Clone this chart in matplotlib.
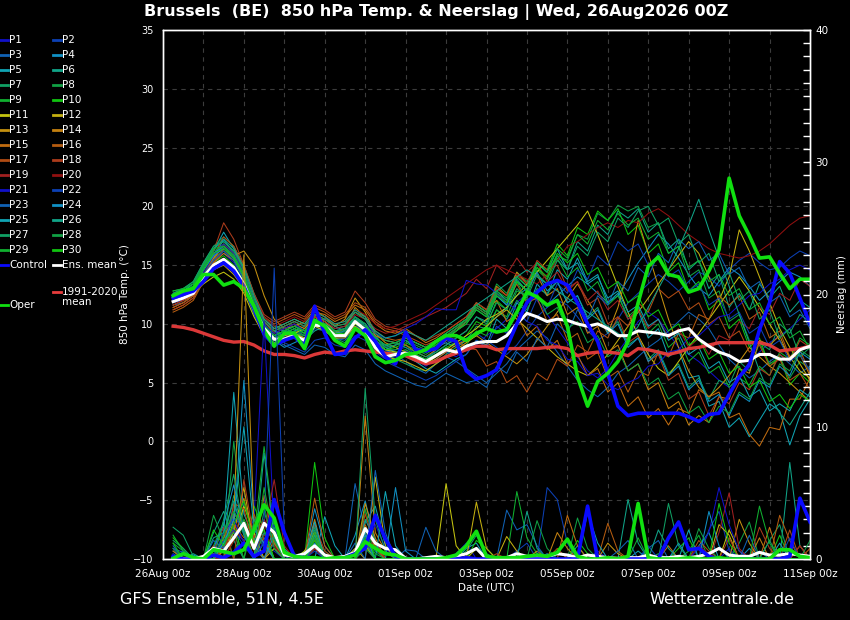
import numpy as np
import matplotlib.pyplot as plt

# lead time in hours (6-hourly GFS ensemble output, +6h .. +384h)
hours = np.arange(6, 385, 6)

tick_labels = ['26Aug 00z', '28Aug 00z', '30Aug 00z', '01Sep 00z', '03Sep 00z',
               '05Sep 00z', '07Sep 00z', '09Sep 00z', '11Sep 00z']

# ---- 850 hPa temperature (degC) ----
ens_mean_t = [11.9, 12.2, 12.6, 14.0, 15.0, 15.5, 14.8, 13.4, 11.3, 9.6,
              8.7, 8.7, 9.0, 8.6, 9.9, 9.8, 9.0, 9.0, 10.2, 9.5,
              8.0, 7.2, 7.4, 7.5, 7.2, 6.8, 7.3, 7.8, 7.6, 8.1,
              8.4, 8.5, 8.5, 9.0, 10.0, 10.9, 10.6, 10.2, 10.4, 10.3,
              10.0, 9.8, 10.0, 9.6, 9.0, 9.0, 9.4, 9.3, 9.2, 9.0,
              9.4, 9.6, 8.7, 8.1, 7.6, 7.3, 6.8, 6.9, 7.4, 7.4,
              7.0, 7.0, 7.8, 8.1]
clim_t = [9.8, 9.7, 9.5, 9.2, 8.9, 8.6, 8.45, 8.5, 8.2, 7.7,
          7.4, 7.4, 7.3, 7.1, 7.4, 7.6, 7.5, 7.7, 7.8, 7.7,
          7.6, 7.5, 7.4, 7.3, 6.9, 6.6, 6.8, 7.2, 7.5, 7.8,
          8.1, 8.1, 7.8, 7.9, 7.9, 7.9, 7.9, 8.0, 8.05, 7.9,
          7.3, 7.5, 7.6, 7.6, 7.5, 7.3, 7.9, 7.8, 7.6, 7.4,
          7.6, 7.9, 8.0, 8.2, 8.4, 8.4, 8.4, 8.4, 8.4, 8.2,
          7.7, 7.8, 7.9, 8.1]
control_t = [12.2, 12.5, 12.8, 13.6, 14.7, 15.2, 14.5, 13.2, 11.3, 9.1,
             8.2, 8.6, 8.9, 8.1, 11.5, 9.2, 7.4, 7.5, 8.8, 9.5,
             8.5, 7.2, 6.6, 9.3, 7.8, 7.7, 7.9, 8.8, 8.5, 6.0,
             5.3, 5.6, 6.1, 8.0, 10.0, 11.8, 12.7, 13.4, 13.7, 13.3,
             11.8, 10.0, 8.5, 5.8, 3.0, 2.2, 2.4, 2.4, 2.4, 2.4,
             2.4, 2.1, 1.7, 2.3, 2.4, 4.0, 5.5, 6.5, 9.5, 11.8,
             15.3, 14.3, 12.2, 10.0]
oper_t = [12.4, 12.8, 13.0, 14.2, 14.2, 13.3, 13.6, 13.0, 11.5, 9.4,
          8.1, 9.2, 9.2, 7.9, 10.3, 9.8, 8.6, 8.1, 9.6, 9.0,
          7.2, 6.7, 6.9, 7.4, 7.5, 7.8, 8.5, 9.0, 9.0, 8.6,
          9.2, 9.6, 9.3, 9.5, 11.0, 12.7, 12.3, 11.6, 12.0, 9.8,
          5.5, 3.0, 5.1, 5.8, 6.8, 8.5, 11.8, 14.9, 15.7, 14.2,
          14.0, 12.7, 13.0, 14.5, 16.3, 22.4, 19.2, 17.5, 15.6, 15.7,
          14.3, 13.0, 13.8, 13.8]

t01 = [11.8, 12.0, 12.6, 14.2, 15.4, 16.0, 15.2, 13.8, 11.0, 9.2, 8.4, 8.9, 9.4, 8.8, 10.2, 9.6, 8.6, 8.8, 10.0, 9.2,
       7.6, 7.0, 7.2, 7.8, 7.0, 6.4, 7.0, 7.6, 7.2, 7.8, 8.2, 9.0, 9.6, 10.4, 11.8, 12.6, 12.0, 10.8, 9.6, 8.4,
       7.2, 6.0, 5.4, 6.2, 7.6, 8.8, 10.2, 11.0, 10.4, 9.2, 8.0, 7.4, 6.8, 6.0, 5.2, 4.6, 5.4, 6.8, 7.6, 8.4,
       9.0, 9.6, 10.4, 11.2]
t02 = [12.4, 12.8, 13.2, 14.6, 15.8, 16.4, 15.6, 14.0, 11.8, 10.0, 9.0, 9.2, 9.6, 9.0, 10.6, 10.2, 9.4, 9.2, 10.6, 9.8,
       8.4, 7.6, 7.8, 8.0, 7.4, 7.0, 7.8, 8.6, 8.2, 8.8, 9.2, 8.6, 8.0, 7.4, 8.2, 9.4, 10.6, 11.4, 12.0, 11.6,
       10.6, 9.4, 8.6, 9.2, 10.4, 11.8, 12.6, 13.4, 14.2, 13.6, 12.8, 13.6, 14.4, 14.0, 13.2, 14.6, 15.4, 16.0, 15.2, 14.6,
       14.8, 15.6, 16.2, 15.8]
t03 = [11.6, 11.8, 12.4, 13.8, 15.0, 15.4, 14.6, 13.0, 10.8, 9.0, 8.2, 8.6, 8.8, 8.4, 9.6, 9.4, 8.8, 8.6, 9.8, 9.4,
       8.2, 7.8, 7.4, 6.8, 6.2, 5.8, 6.6, 7.2, 6.8, 6.2, 5.6, 5.0, 5.8, 6.6, 7.8, 8.6, 9.4, 8.8, 7.6, 6.4,
       5.2, 4.4, 3.8, 4.6, 5.8, 6.4, 7.2, 8.0, 8.6, 9.4, 10.2, 11.0, 10.4, 9.6, 8.2, 7.0, 6.2, 5.4, 6.0, 6.8,
       7.4, 6.6, 5.8, 6.4]
t04 = [12.0, 12.4, 13.0, 14.4, 15.6, 17.2, 16.0, 14.2, 11.4, 9.4, 8.6, 8.0, 8.4, 8.8, 10.0, 10.4, 9.8, 9.4, 10.4, 10.0,
       8.6, 7.8, 8.2, 8.6, 8.0, 7.6, 8.0, 8.4, 8.0, 8.6, 9.0, 9.8, 10.6, 11.4, 12.4, 13.0, 12.2, 11.6, 12.4, 13.2,
       14.0, 13.4, 12.6, 11.8, 12.4, 13.8, 15.2, 16.4, 17.6, 16.8, 15.6, 14.2, 13.0, 12.4, 13.6, 14.8, 14.2, 13.2, 12.0, 12.8,
       13.6, 14.4, 14.0, 13.2]
t05 = [12.2, 12.6, 13.2, 14.8, 16.2, 17.8, 16.4, 14.6, 12.0, 10.2, 9.4, 9.0, 9.4, 9.8, 10.8, 10.2, 9.6, 9.8, 11.0, 10.4,
       9.0, 8.0, 7.6, 7.2, 6.8, 6.2, 5.8, 6.4, 7.0, 7.4, 8.6, 8.2, 10.4, 9.6, 11.8, 11.0, 13.4, 12.4, 14.6, 13.8,
       15.6, 13.6, 14.2, 11.8, 12.6, 10.4, 11.2, 8.8, 9.6, 7.2, 7.8, 5.4, 5.6, 3.0, 3.4, 1.2, 2.0, 0.4, 1.8, 3.2,
       2.6, -0.3, 2.2, 3.6]
t06 = [12.6, 13.0, 13.4, 15.0, 16.4, 17.0, 16.2, 14.8, 12.2, 10.4, 9.6, 9.4, 9.0, 8.6, 9.4, 9.8, 9.2, 9.0, 10.4, 10.0,
       8.8, 8.2, 8.0, 7.6, 7.2, 7.0, 7.6, 8.2, 8.8, 9.4, 10.6, 10.2, 12.4, 11.6, 13.8, 12.8, 15.2, 14.4, 15.8, 14.6,
       17.0, 16.2, 18.4, 17.6, 19.6, 19.0, 19.8, 17.8, 18.6, 16.4, 17.2, 14.6, 15.4, 13.0, 14.2, 11.4, 12.6, 11.2, 13.4, 12.2,
       13.2, 11.0, 12.0, 11.4]
t07 = [12.8, 13.0, 13.6, 15.2, 16.6, 17.4, 16.6, 15.0, 12.6, 10.6, 9.8, 9.6, 9.2, 9.0, 9.8, 9.4, 8.8, 8.4, 9.6, 9.2,
       8.0, 7.4, 7.0, 6.6, 6.2, 6.0, 6.6, 7.4, 8.0, 8.6, 9.8, 9.6, 11.2, 10.4, 12.0, 11.2, 13.0, 12.6, 13.6, 11.8,
       12.4, 10.6, 11.4, 9.4, 10.2, 8.2, 8.8, 7.0, 7.8, 5.8, 6.6, 4.6, 5.4, 3.6, 5.2, 4.8, 6.8, 6.0, 8.4, 7.8,
       10.0, 9.2, 10.8, 10.2]
t08 = [12.4, 12.8, 13.4, 15.0, 16.0, 16.6, 15.8, 14.4, 11.8, 9.8, 9.0, 9.4, 9.8, 9.2, 10.4, 10.0, 9.4, 9.0, 10.2, 9.6,
       8.4, 7.8, 7.8, 8.2, 7.8, 7.4, 8.0, 8.8, 9.6, 10.4, 11.8, 11.2, 13.4, 12.6, 14.4, 13.6, 14.8, 13.8, 15.8, 15.4,
       17.6, 17.2, 19.4, 18.8, 20.1, 19.6, 20.0, 18.2, 18.6, 16.0, 16.6, 14.0, 14.6, 12.2, 12.8, 10.2, 10.8, 8.6, 8.4, 6.6,
       7.2, 5.4, 6.8, 6.2]
t09 = [12.2, 12.4, 13.0, 14.4, 15.6, 16.2, 15.4, 13.8, 11.4, 9.6, 8.8, 9.0, 9.4, 9.0, 10.2, 9.8, 9.2, 9.2, 10.2, 9.4,
       7.8, 7.2, 7.4, 7.6, 7.2, 6.8, 7.4, 8.0, 7.6, 8.2, 9.4, 9.0, 11.2, 10.6, 12.8, 12.4, 14.6, 13.8, 15.6, 14.0,
       14.8, 12.8, 13.6, 11.6, 12.4, 10.6, 11.4, 9.2, 10.0, 8.0, 8.8, 6.8, 7.6, 5.8, 6.4, 4.6, 5.4, 4.8, 6.4, 5.6,
       7.6, 7.0, 8.8, 8.2]
t10 = [12.0, 12.4, 12.8, 14.0, 15.2, 15.8, 15.0, 13.6, 11.2, 9.4, 8.6, 8.8, 9.2, 8.8, 10.0, 9.6, 9.0, 9.0, 10.0, 9.4,
       8.0, 7.4, 7.6, 7.8, 7.4, 7.0, 7.4, 8.0, 8.4, 9.0, 10.2, 9.8, 12.0, 11.2, 13.6, 12.8, 15.2, 14.6, 16.8, 15.8,
       18.2, 17.6, 19.6, 18.8, 19.8, 17.6, 18.4, 16.0, 16.8, 14.4, 15.2, 12.8, 13.6, 11.2, 12.0, 9.6, 10.4, 8.0, 8.8, 6.4,
       7.2, 4.8, 5.8, 5.0]
t11 = [11.8, 12.2, 12.6, 13.4, 14.0, 14.4, 13.8, 12.6, 10.6, 9.0, 8.4, 8.8, 9.2, 9.6, 10.6, 10.2, 9.4, 9.0, 10.0, 9.6,
       8.4, 7.8, 7.6, 7.4, 7.0, 6.6, 7.2, 7.8, 8.4, 9.0, 9.6, 10.4, 10.8, 11.4, 12.4, 13.4, 14.4, 15.4, 16.4, 17.4,
       18.4, 19.6, 17.6, 15.4, 13.2, 11.0, 9.0, 7.4, 6.2, 5.6, 6.8, 8.0, 9.2, 10.4, 11.6, 12.8, 14.0, 12.8, 11.4, 10.0,
       8.6, 7.2, 6.0, 5.4]
t12 = [12.0, 12.2, 12.8, 13.8, 14.6, 15.0, 14.2, 13.0, 11.0, 9.4, 8.6, 9.0, 9.2, 8.8, 9.8, 9.4, 8.8, 8.8, 9.8, 9.2,
       7.8, 7.2, 7.0, 6.8, 6.4, 6.0, 6.6, 7.2, 7.8, 8.4, 9.0, 9.8, 10.6, 11.2, 10.4, 9.6, 8.8, 8.0, 7.2, 6.6,
       6.0, 5.6, 6.4, 7.4, 8.6, 9.8, 11.0, 12.2, 13.4, 14.6, 15.8, 17.0, 16.0, 14.0, 12.0, 14.0, 18.0, 16.2, 14.0, 11.8,
       9.6, 8.0, 6.6, 5.2]
t13 = [11.6, 12.0, 12.4, 14.0, 15.6, 16.6, 15.8, 16.2, 15.0, 12.4, 10.4, 9.6, 9.8, 10.2, 11.2, 10.6, 9.8, 10.4, 12.2, 11.0,
       9.2, 8.4, 8.0, 7.6, 7.0, 6.6, 7.0, 7.6, 8.2, 8.6, 9.0, 8.4, 7.8, 7.2, 6.6, 7.4, 8.6, 9.8, 11.0, 12.2,
       13.4, 12.0, 10.6, 9.2, 11.4, 14.6, 18.8, 16.0, 13.2, 10.4, 8.0, 6.0, 4.6, 3.8, 4.6, 5.6, 6.8, 8.0, 7.2, 6.4,
       5.8, 5.0, 4.2, 3.4]
t14 = [11.4, 11.8, 12.4, 13.8, 15.2, 16.0, 15.4, 14.0, 12.0, 10.2, 9.2, 9.6, 10.0, 9.6, 10.6, 10.0, 9.2, 9.6, 11.4, 10.6,
       9.0, 8.6, 8.4, 8.2, 7.6, 7.2, 7.8, 8.6, 9.4, 10.2, 11.6, 11.0, 13.2, 12.4, 14.4, 13.4, 14.2, 12.4, 13.0, 10.8,
       11.4, 9.2, 9.8, 7.6, 8.2, 6.0, 6.6, 4.4, 5.0, 2.8, 3.4, 1.4, 2.2, 1.6, 3.8, 3.6, 6.2, 5.8, 8.6, 8.2,
       9.0, 7.0, 7.4, 5.6]
t15 = [11.2, 11.6, 12.2, 13.6, 15.4, 16.8, 16.0, 14.4, 12.2, 10.4, 9.6, 10.0, 10.4, 10.0, 11.0, 10.8, 10.2, 10.6, 11.6, 11.2,
       10.0, 9.4, 9.2, 9.6, 9.0, 8.4, 8.8, 9.4, 10.0, 10.6, 11.8, 11.2, 12.0, 10.2, 10.8, 9.0, 9.8, 7.8, 8.6, 6.6,
       7.4, 5.6, 6.2, 4.2, 5.0, 3.0, 3.8, 2.0, 2.8, 1.4, 2.8, 2.4, 4.4, 3.8, 4.2, 2.0, 2.4, 0.6, -0.4, 1.2,
       1.0, 3.6, 3.6, 5.4]
t16 = [11.0, 11.4, 12.0, 13.6, 15.2, 16.4, 15.6, 14.2, 12.0, 10.2, 9.4, 9.8, 10.2, 9.8, 10.8, 10.4, 9.8, 10.0, 11.0, 10.6,
       9.4, 8.8, 8.6, 8.8, 8.4, 8.0, 8.4, 9.0, 9.6, 10.2, 11.4, 10.8, 12.6, 11.8, 13.4, 11.8, 12.2, 10.2, 10.8, 8.6,
       9.2, 7.0, 7.6, 5.4, 6.0, 4.2, 6.0, 5.6, 7.6, 7.2, 9.2, 8.8, 10.8, 10.4, 12.4, 11.6, 12.4, 10.4, 11.0, 8.8,
       9.4, 7.2, 7.8, 5.8]
t17 = [11.4, 11.8, 12.4, 14.0, 15.8, 17.4, 16.6, 14.8, 12.4, 10.6, 10.0, 10.4, 10.8, 10.4, 11.4, 11.0, 10.4, 10.8, 11.8, 11.4,
       10.2, 9.6, 9.4, 9.0, 8.6, 8.2, 8.6, 9.0, 8.6, 8.0, 7.8, 6.4, 6.8, 5.0, 5.6, 4.2, 5.8, 5.2, 7.0, 6.4,
       8.2, 7.6, 9.4, 8.8, 10.6, 9.8, 11.8, 11.0, 13.0, 12.2, 12.8, 11.2, 11.8, 10.0, 10.6, 8.8, 9.4, 7.6, 8.2, 6.4,
       7.0, 5.2, 5.8, 4.4]
t18 = [11.2, 11.6, 12.2, 14.2, 16.2, 18.6, 17.2, 15.0, 12.6, 10.8, 10.2, 10.6, 11.0, 10.6, 11.6, 11.2, 10.6, 11.0, 12.8, 11.8,
       10.4, 9.8, 9.6, 9.4, 9.0, 8.6, 9.0, 9.4, 10.0, 10.6, 11.8, 11.2, 13.0, 12.4, 14.2, 13.4, 15.4, 14.6, 15.0, 13.0,
       13.6, 11.6, 12.2, 10.0, 10.6, 8.4, 9.0, 6.8, 7.4, 5.2, 5.8, 3.6, 4.2, 2.2, 3.8, 3.2, 5.0, 4.4, 6.2, 5.6,
       7.4, 6.8, 8.6, 8.0]
t19 = [11.6, 12.0, 12.6, 14.0, 15.4, 16.2, 15.6, 14.2, 12.0, 10.2, 9.4, 9.8, 10.2, 9.8, 10.6, 10.2, 9.6, 9.8, 10.8, 10.4,
       9.6, 9.2, 9.4, 9.8, 10.2, 10.6, 11.0, 11.4, 12.0, 12.6, 13.8, 13.0, 15.0, 14.2, 15.6, 14.4, 15.2, 13.6, 14.4, 12.8,
       13.6, 12.0, 12.8, 11.2, 12.0, 10.4, 11.2, 9.6, 10.4, 8.8, 9.6, 8.0, 8.8, 7.4, 9.0, 8.6, 10.2, 9.6, 11.4, 10.8,
       12.6, 12.0, 13.8, 13.2]
t20 = [11.8, 12.2, 12.8, 14.4, 16.0, 16.8, 16.0, 14.6, 12.4, 10.6, 9.8, 10.2, 10.6, 10.2, 11.0, 10.6, 10.0, 10.2, 11.2, 10.8,
       10.0, 9.6, 9.8, 10.2, 10.6, 11.0, 11.6, 12.2, 12.8, 13.4, 14.0, 14.6, 15.0, 14.6, 14.2, 13.8, 13.4, 14.2, 15.4, 16.6,
       17.0, 17.6, 18.2, 18.6, 18.2, 18.8, 18.6, 19.4, 19.8, 19.2, 18.4, 17.6, 17.0, 16.4, 16.0, 15.8, 15.6, 15.8, 16.2, 16.8,
       17.6, 18.4, 19.0, 19.2]
t21 = [12.0, 12.4, 13.0, 14.4, 15.8, 16.6, 15.8, 14.2, 11.8, 9.8, 9.2, 9.6, 10.0, 9.4, 10.4, 10.0, 9.4, 9.6, 10.6, 10.0,
       9.2, 8.8, 9.0, 9.6, 10.0, 10.6, 11.3, 11.2, 11.2, 13.7, 13.4, 13.3, 12.6, 11.8, 11.2, 10.2, 9.8, 8.6, 8.2, 7.0,
       6.8, 5.6, 5.8, 4.8, 4.4, 5.0, 5.4, 6.4, 6.6, 7.6, 7.8, 8.8, 9.0, 9.8, 10.6, 10.8, 11.6, 12.4, 12.6, 13.4,
       13.8, 14.6, 15.0, 14.6]
t22 = [12.2, 12.6, 13.2, 14.6, 16.0, 16.8, 16.0, 14.4, 12.0, 10.0, 9.0, 8.4, 8.0, 7.6, 8.6, 8.8, 8.2, 8.0, 9.0, 8.6,
       7.4, 6.8, 6.4, 6.0, 5.6, 5.2, 5.6, 6.2, 6.8, 7.4, 8.6, 8.0, 9.8, 9.2, 11.0, 10.2, 12.2, 11.4, 13.4, 12.6,
       14.6, 13.8, 15.8, 15.0, 17.0, 16.2, 16.8, 15.0, 15.8, 14.0, 14.6, 12.8, 13.4, 11.6, 12.2, 10.4, 11.0, 9.2, 9.8, 8.0,
       8.6, 6.8, 7.4, 6.0]
t23 = [11.8, 12.2, 12.8, 14.2, 15.4, 16.2, 15.4, 13.8, 11.4, 9.4, 8.6, 8.2, 7.8, 7.4, 8.2, 8.0, 7.4, 7.2, 8.2, 7.8,
       6.6, 6.0, 5.6, 5.2, 4.8, 4.6, 5.2, 5.8, 5.4, 5.0, 5.2, 4.6, 6.4, 5.8, 7.6, 6.8, 8.8, 8.0, 10.0, 9.2,
       11.2, 10.4, 12.4, 11.6, 13.6, 12.8, 14.8, 14.0, 16.0, 15.2, 17.2, 16.4, 17.0, 15.4, 16.0, 14.2, 14.8, 13.0, 13.6, 11.8,
       12.4, 10.6, 11.2, 9.6]
t24 = [12.2, 12.6, 13.2, 14.6, 15.8, 16.4, 15.6, 14.0, 11.6, 9.6, 8.8, 9.2, 9.6, 9.2, 10.2, 9.8, 9.2, 9.4, 10.4, 9.8,
       8.6, 8.0, 8.2, 8.6, 8.0, 7.6, 8.2, 8.8, 9.4, 10.0, 11.2, 10.6, 12.4, 11.6, 13.6, 12.8, 14.4, 12.8, 13.6, 11.8,
       12.4, 10.4, 11.2, 9.2, 10.0, 8.0, 8.8, 6.8, 7.6, 5.6, 6.4, 4.4, 5.2, 3.4, 4.0, 2.2, 4.0, 3.4, 5.2, 4.6,
       6.4, 5.6, 7.6, 7.0]
t25 = [12.0, 12.4, 13.0, 14.6, 16.0, 16.6, 15.8, 14.2, 11.8, 9.8, 9.0, 9.4, 9.8, 9.4, 10.4, 10.0, 9.4, 9.6, 10.6, 10.0,
       8.8, 8.2, 8.4, 8.8, 8.4, 8.0, 8.6, 9.2, 9.8, 10.4, 11.6, 11.0, 12.8, 12.0, 14.0, 13.2, 15.2, 14.4, 16.4, 14.6,
       15.2, 13.4, 14.0, 12.2, 12.8, 11.0, 11.6, 9.8, 10.4, 8.6, 9.2, 7.4, 8.0, 6.2, 6.8, 5.0, 5.6, 3.8, 4.4, 2.6,
       3.2, 2.6, 4.4, 3.8]
t26 = [12.4, 12.8, 13.4, 15.0, 16.4, 17.2, 16.4, 14.8, 12.4, 10.4, 9.6, 10.0, 10.4, 10.0, 11.0, 10.6, 10.0, 10.2, 11.2, 10.6,
       9.4, 8.8, 9.0, 9.4, 9.0, 8.6, 9.2, 9.8, 10.4, 11.0, 11.6, 12.2, 12.8, 13.4, 14.0, 14.6, 14.0, 13.4, 12.8, 12.2,
       11.6, 11.0, 10.4, 9.8, 9.2, 8.6, 9.8, 11.4, 13.0, 14.6, 16.4, 18.4, 20.6, 18.0, 15.6, 13.2, 10.8, 8.4, 6.0, 4.0,
       2.4, 1.4, 2.8, 4.2]
t27 = [12.6, 13.0, 13.6, 15.2, 16.6, 17.0, 16.2, 14.6, 12.2, 10.2, 9.4, 9.8, 10.2, 9.8, 10.8, 10.4, 9.8, 10.0, 11.0, 10.4,
       9.2, 8.6, 8.4, 8.0, 7.6, 7.2, 7.6, 8.2, 8.8, 9.4, 10.6, 10.0, 11.8, 11.2, 13.0, 12.2, 14.2, 13.4, 15.4, 14.6,
       16.6, 15.8, 17.8, 17.0, 19.0, 18.2, 19.6, 20.0, 18.4, 19.0, 16.8, 17.6, 15.2, 16.0, 13.6, 14.4, 12.0, 12.8, 10.4, 11.2,
       8.8, 9.6, 7.2, 8.0]
t28 = [12.2, 12.6, 13.2, 14.8, 16.2, 16.6, 15.8, 14.2, 11.8, 9.8, 9.0, 9.4, 9.8, 9.4, 10.4, 10.0, 9.4, 9.4, 10.4, 9.8,
       8.6, 8.0, 8.2, 8.6, 8.2, 7.8, 8.4, 9.0, 9.6, 10.2, 11.4, 10.8, 12.6, 12.0, 13.6, 12.0, 12.6, 10.8, 11.4, 9.6,
       10.2, 8.4, 9.0, 7.2, 7.8, 6.0, 6.6, 4.8, 5.4, 3.6, 4.2, 2.4, 3.0, 1.6, 3.0, 2.4, 4.2, 3.6, 5.4, 4.8,
       6.6, 6.0, 7.8, 7.2]
t29 = [12.8, 13.0, 13.4, 15.0, 16.4, 16.6, 15.8, 14.2, 11.8, 9.8, 9.0, 9.4, 9.8, 9.4, 10.4, 10.0, 9.4, 9.6, 10.6, 10.0,
       8.8, 8.2, 8.4, 8.8, 8.4, 8.0, 8.6, 9.2, 9.8, 10.4, 11.6, 11.0, 12.8, 12.2, 14.0, 13.2, 15.2, 14.4, 16.4, 15.6,
       17.6, 16.8, 18.8, 18.0, 19.4, 18.4, 19.0, 17.2, 17.8, 16.0, 16.6, 14.8, 15.4, 13.6, 14.2, 12.4, 13.0, 11.2, 11.8, 10.0,
       10.6, 8.8, 9.4, 7.8]
t30 = [12.4, 12.8, 13.2, 14.6, 16.0, 16.4, 15.6, 14.0, 11.6, 9.6, 8.8, 9.2, 9.6, 9.2, 10.2, 9.8, 9.2, 9.2, 10.2, 9.6,
       8.4, 7.8, 8.0, 8.4, 8.0, 7.6, 8.2, 8.8, 9.4, 10.0, 11.2, 10.6, 12.4, 11.8, 13.6, 12.8, 14.8, 14.0, 16.0, 15.2,
       16.0, 14.2, 14.8, 13.0, 13.6, 11.8, 12.4, 10.6, 11.2, 9.4, 10.0, 8.2, 8.8, 7.0, 7.6, 5.8, 6.4, 4.6, 5.2, 3.4,
       4.0, 2.8, 4.0, 3.4]

# ---- 6-hourly precipitation (mm) ----
ens_mean_rr = [0.1, 0.05, 0, 0.2, 0.8, 0.6, 1.6, 2.7, 0.8, 2.7,
               2.0, 0.3, 0.2, 0.4, 1.0, 0.3, 0.1, 0.2, 0.5, 2.3,
               1.2, 0.8, 0.7, 0.05, 0, 0.1, 0.2, 0.1, 0.2, 0.4,
               0.8, 0, 0.1, 0.1, 0.4, 0.2, 0.1, 0.2, 0.4, 0.3,
               0.1, 0.3, 0.2, 0.1, 0.05, 0.1, 0.1, 0.3, 0.1, 0.1,
               0.2, 0.1, 0.2, 0.4, 0.8, 0.3, 0.2, 0.2, 0.5, 0.3,
               0.3, 0.4, 0.3, 0.2]
control_rr = [0.2, 0, 0, 0, 0.3, 0.1, 0.5, 1.2, 0.2, 0.6,
              4.5, 2.0, 0.2, 0.1, 0, 0, 0, 0.1, 0.4, 0.8,
              3.3, 1.5, 0.2, 0, 0, 0, 0, 0, 0, 0.1,
              0, 0, 0, 0, 0, 0, 0, 0, 0, 0,
              0, 4.0, 0, 0, 0, 0, 0, 0, 0, 1.6,
              2.8, 0.7, 0.8, 0.2, 0, 0, 0, 0, 0, 0,
              0, 0.2, 4.6, 2.8]
oper_rr = [0.05, 0.4, 0.1, 0, 0.7, 0.55, 0.4, 0.7, 2.2, 4.1,
           3.1, 0.5, 0.2, 0.1, 0.1, 0, 0.1, 0.1, 0.3, 1.3,
           0.8, 0.4, 0.3, 0, 0, 0, 0, 0.1, 0.3, 1.0,
           2.1, 0.2, 0.1, 0.1, 0.1, 0.2, 0.3, 0.2, 0.5, 1.5,
           0.2, 0, 0, 0.1, 0, 0.2, 4.2, 0.1, 0, 0,
           0, 0.1, 0, 0, 0.1, 0, 0, 0, 0, 0,
           0.7, 0.7, 0.2, 0.1]

# members: {time step index: mm}, every other step is dry
r01 = {4: 0.6, 5: 1.2, 6: 2.0, 7: 1.4, 8: 3.0, 9: 18.0, 10: 2.0, 11: 0.4, 14: 0.8, 19: 1.6, 20: 0.6, 28: 0.4, 29: 1.2, 42: 0.6, 55: 0.8}
r02 = {0: 0.4, 5: 0.8, 6: 4.2, 7: 1.8, 8: 2.4, 9: 1.0, 10: 0.6, 18: 0.8, 19: 2.2, 20: 1.4, 34: 0.6, 35: 1.2, 53: 2.2, 54: 3.6, 55: 0.6}
r03 = {0: 0.8, 1: 0.5, 5: 1.6, 6: 3.2, 7: 2.2, 10: 1.2, 12: 0.4, 14: 2.6, 18: 5.7, 19: 2.0, 23: 0.7, 24: 0.6, 33: 3.7, 34: 2.2, 35: 2.6, 36: 1.0, 47: 0.8, 48: 1.4, 58: 0.6}
r04 = {2: 0.3, 4: 0.6, 6: 2.4, 7: 13.5, 8: 3.0, 9: 1.6, 14: 3.8, 15: 1.0, 18: 1.8, 19: 4.4, 20: 1.2, 37: 0.4, 57: 0.8}
r05 = {0: 0.6, 5: 2.0, 6: 12.6, 7: 3.4, 8: 1.6, 10: 2.4, 11: 0.8, 15: 3.2, 16: 1.0, 19: 2.8, 20: 4.0, 21: 1.0, 29: 0.8, 30: 1.2, 46: 0.6, 52: 1.0, 53: 2.0}
r06 = {1: 0.4, 4: 2.0, 5: 3.6, 6: 1.4, 9: 2.6, 10: 1.2, 14: 1.4, 19: 3.0, 20: 1.4, 40: 1.0, 45: 4.5, 46: 1.2, 61: 7.3, 62: 1.0}
r07 = {0: 2.4, 1: 1.8, 2: 0.2, 5: 1.4, 6: 4.8, 7: 2.0, 9: 3.6, 10: 1.0, 14: 2.2, 19: 1.2, 29: 0.6, 30: 1.8, 31: 0.4, 48: 0.4, 59: 1.4, 60: 2.6}
r08 = {0: 1.2, 1: 0.6, 4: 0.8, 6: 8.9, 7: 2.4, 8: 1.8, 9: 1.0, 13: 0.6, 14: 1.0, 19: 2.4, 20: 0.6, 40: 3.1, 41: 0.8, 56: 1.2, 57: 2.8}
r09 = {4: 1.0, 5: 2.8, 7: 3.0, 8: 1.6, 9: 8.5, 10: 2.2, 14: 1.8, 15: 0.6, 19: 3.8, 20: 1.0, 34: 5.1, 35: 1.6, 36: 0.4, 51: 0.6, 52: 1.8}
r10 = {0: 1.6, 1: 0.8, 5: 1.2, 6: 2.6, 8: 4.0, 9: 2.2, 14: 7.3, 15: 1.6, 19: 1.8, 30: 1.4, 31: 0.8, 50: 0.8, 51: 1.6, 60: 1.8}
r11 = {4: 0.4, 6: 1.4, 7: 4.0, 8: 2.0, 13: 0.6, 14: 2.0, 19: 1.0, 27: 5.7, 28: 1.0, 30: 0.8, 55: 2.2, 56: 0.6}
r12 = {5: 0.6, 6: 2.0, 7: 5.4, 8: 1.0, 10: 0.8, 14: 1.6, 18: 0.8, 20: 6.2, 21: 1.0, 30: 4.3, 31: 0.8, 33: 1.7, 34: 0.6, 54: 2.6, 55: 1.8}
r13 = {4: 0.4, 6: 3.0, 7: 23.0, 8: 2.6, 9: 1.2, 14: 0.8, 19: 4.2, 20: 1.6, 36: 0.6, 43: 1.2, 44: 0.4, 56: 3.0, 57: 1.2}
r14 = {5: 1.0, 6: 2.2, 7: 4.6, 8: 1.4, 10: 1.4, 14: 3.0, 19: 10.8, 20: 2.0, 21: 0.6, 38: 2.0, 39: 0.8, 58: 1.6, 62: 1.0}
r15 = {0: 0.6, 5: 1.6, 6: 3.4, 7: 2.6, 9: 4.8, 10: 1.2, 14: 2.0, 19: 2.6, 20: 0.8, 39: 3.3, 40: 1.0, 49: 1.0, 59: 2.4}
r16 = {5: 0.8, 6: 2.6, 7: 1.6, 8: 3.4, 9: 1.4, 14: 4.6, 15: 1.0, 19: 1.6, 43: 2.7, 44: 0.6, 60: 3.3, 61: 1.4, 63: 0.8}
r17 = {4: 1.0, 6: 4.2, 7: 3.8, 8: 0.8, 10: 2.0, 14: 1.4, 19: 3.4, 20: 1.0, 38: 0.8, 52: 1.4, 53: 0.6, 61: 2.2}
r18 = {4: 0.6, 5: 2.4, 7: 6.0, 8: 1.6, 9: 3.0, 10: 1.0, 14: 2.6, 15: 0.6, 19: 1.4, 32: 0.4, 55: 1.6, 58: 2.4, 59: 0.8}
r19 = {5: 1.0, 6: 2.2, 7: 1.4, 9: 2.0, 10: 6.0, 11: 1.0, 14: 0.8, 19: 0.8, 20: 1.4, 54: 2.0, 55: 5.0, 56: 0.8, 62: 1.0}
r20 = {6: 1.4, 7: 2.6, 8: 0.6, 9: 1.8, 10: 1.0, 14: 1.0, 19: 2.0, 52: 1.0, 53: 0.4}
r21 = {0: 0.8, 5: 2.0, 6: 3.0, 7: 1.2, 9: 1.4, 10: 2.6, 14: 1.2, 19: 1.0, 20: 2.6, 21: 0.8, 52: 0.8, 53: 2.0, 54: 5.4, 55: 2.6, 56: 0.6}
r22 = {1: 0.6, 5: 1.4, 6: 2.2, 7: 1.0, 9: 3.0, 10: 22.0, 11: 2.0, 14: 0.6, 19: 1.6, 37: 5.4, 38: 4.5, 39: 1.2, 47: 1.0, 61: 1.6}
r23 = {0: 1.0, 4: 1.4, 5: 0.8, 6: 3.6, 7: 2.0, 9: 1.2, 14: 1.0, 18: 1.2, 20: 6.7, 21: 2.0, 25: 2.4, 26: 0.6, 44: 0.6, 45: 1.4, 57: 1.8}
r24 = {4: 0.8, 5: 2.6, 6: 5.6, 7: 2.2, 8: 1.0, 10: 1.8, 14: 1.2, 19: 1.8, 22: 5.4, 23: 0.6, 50: 1.2, 53: 3.6, 54: 1.0}
r25 = {5: 1.2, 6: 3.0, 7: 10.0, 8: 2.2, 9: 1.2, 14: 2.8, 19: 2.0, 21: 5.1, 22: 1.0, 41: 3.5, 42: 1.2, 51: 2.2, 60: 1.2}
r26 = {2: 0.4, 4: 1.6, 5: 2.0, 6: 4.4, 7: 1.8, 9: 8.0, 10: 1.6, 14: 1.8, 19: 1.2, 35: 3.6, 36: 0.8, 48: 2.2, 49: 0.8}
r27 = {0: 1.4, 1: 0.8, 5: 3.0, 6: 6.4, 7: 2.0, 9: 2.0, 14: 2.4, 19: 12.9, 20: 3.0, 21: 0.6, 49: 4.2, 50: 1.0, 59: 1.4}
r28 = {0: 0.8, 4: 3.3, 5: 1.4, 6: 2.0, 8: 2.8, 9: 4.0, 10: 0.8, 14: 1.6, 19: 0.8, 36: 2.9, 37: 0.8, 52: 2.3, 53: 0.8, 63: 1.4}
r29 = {0: 1.8, 1: 0.6, 5: 1.8, 6: 3.6, 7: 2.4, 9: 5.4, 10: 1.4, 14: 2.0, 19: 1.6, 20: 0.4, 46: 1.6, 58: 4.0, 59: 1.2}
r30 = {0: 1.2, 4: 2.2, 5: 1.0, 6: 2.6, 7: 4.4, 8: 1.2, 9: 2.2, 14: 1.4, 19: 2.4, 40: 1.4, 41: 0.4, 54: 4.2, 55: 1.2}

pert_temp = [t01, t02, t03, t04, t05, t06, t07, t08, t09, t10,
             t11, t12, t13, t14, t15, t16, t17, t18, t19, t20,
             t21, t22, t23, t24, t25, t26, t27, t28, t29, t30]
pert_rain = [r01, r02, r03, r04, r05, r06, r07, r08, r09, r10,
             r11, r12, r13, r14, r15, r16, r17, r18, r19, r20,
             r21, r22, r23, r24, r25, r26, r27, r28, r29, r30]

base_colors = ['#1010c8', '#0c40b4', '#1062b4', '#1090c4', '#10a4b4', '#10a488', '#10a064', '#10a044', '#10b030', '#10c410',
               '#c4c410', '#c4b010', '#c49010', '#c48010', '#c06c10', '#b45c10', '#b04c14', '#ac3c1c', '#a02020', '#901010']
member_colors = base_colors + base_colors[:10]


def rain_series(steps):
    rr = np.zeros(len(hours))
    for k, v in steps.items():
        rr[k] = v
    return rr


fig = plt.figure(figsize=(8.5, 6.2), dpi=100, facecolor='black')
ax = fig.add_axes([163 / 850, 61 / 620, 647 / 850, 529 / 620])
ax.set_facecolor('black')
ax2 = ax.twinx()

for t, c in zip(pert_temp, member_colors):
    ax.plot(hours, t, color=c, linewidth=0.75)
for r, c in zip(pert_rain, member_colors):
    ax2.plot(hours, rain_series(r), color=c, linewidth=0.75)

ax.plot(hours, clim_t, color='#e83c3c', linewidth=2.4, alpha=0.95)
ax.plot(hours, ens_mean_t, color='white', linewidth=2.2)
ax.plot(hours, control_t, color='#0a0aff', linewidth=2.6)
ax.plot(hours, oper_t, color='#10e010', linewidth=2.6)

ax2.plot(hours, ens_mean_rr, color='white', linewidth=2.2)
ax2.plot(hours, control_rr, color='#0a0aff', linewidth=2.6)
ax2.plot(hours, oper_rr, color='#10e010', linewidth=2.6)

ax.set_xlim(0, 384)
ax.set_ylim(-10, 35)
ax2.set_ylim(0, 40)

ax.set_xticks(np.arange(0, 385, 48))
ax.set_xticklabels(tick_labels)
ax.set_xticks(np.arange(0, 385, 24), minor=True)
ax.set_yticks(np.arange(-10, 36, 5))
ax.grid(True, which='both', axis='x', color='#3c3c3c', linestyle=(0, (4, 4)), linewidth=0.8)
ax.grid(True, which='major', axis='y', color='#3c3c3c', linestyle=(0, (4, 4)), linewidth=0.8)
ax.tick_params(axis='both', which='both', length=0, colors='white', labelsize=7)
ax.tick_params(axis='y', pad=7)
ax.tick_params(axis='x', pad=7, labelsize=7.5)

ax2.set_yticks(np.arange(0, 41, 10))
ax2.set_yticks(np.arange(0, 41, 1), minor=True)
ax2.tick_params(axis='y', which='both', direction='in', length=5, width=1,
                colors='white', labelsize=7.5, pad=4)

for a in (ax, ax2):
    for s in a.spines.values():
        s.set_color('white')
        s.set_linewidth(1)

ax.set_ylabel('850 hPa Temp. (°C)', color='white', fontsize=7.5, labelpad=2)
ax2.set_ylabel('Neerslag (mm)', color='white', fontsize=7.5, labelpad=6)
ax.set_xlabel('Date (UTC)', color='white', fontsize=7.5, labelpad=3)

fig.text(436 / 850, 1 - 12 / 620, 'Brussels  (BE)  850 hPa Temp. & Neerslag | Wed, 26Aug2026 00Z',
         color='white', fontsize=11.5, fontweight='bold', ha='center', va='center')
fig.text(120 / 850, 1 - 599 / 620, 'GFS Ensemble, 51N, 4.5E', color='white', fontsize=11.5,
         ha='left', va='center')
fig.text(794 / 850, 1 - 599 / 620, 'Wetterzentrale.de', color='white', fontsize=11.5,
         ha='right', va='center')

# legend block on the left, in pixel coordinates
lay = fig.add_axes([0, 0, 1, 1])
lay.set_xlim(0, 850)
lay.set_ylim(620, 0)
lay.axis('off')
lay.patch.set_alpha(0)
for i in range(30):
    row, col = divmod(i, 2)
    y = 40 + 15 * row
    x0 = 0 if col == 0 else 53
    lay.plot([x0, x0 + 8], [y, y], color=member_colors[i], linewidth=2)
    lay.text(x0 + 9, y, f'P{i + 1}', color='white', fontsize=7.5, va='center')
lay.plot([0, 8], [265, 265], color='#0a0aff', linewidth=2)
lay.text(9, 265, 'Control', color='white', fontsize=7.5, va='center')
lay.plot([53, 61], [265, 265], color='white', linewidth=2)
lay.text(62, 265, 'Ens. mean', color='white', fontsize=7.5, va='center')
lay.plot([53, 61], [292, 292], color='#e83c3c', linewidth=2)
lay.text(62, 297, '1991-2020\nmean', color='white', fontsize=7.5, va='center', linespacing=0.95)
lay.plot([0, 8], [305, 305], color='#10e010', linewidth=2)
lay.text(9, 305, 'Oper', color='white', fontsize=7.5, va='center')

fig.savefig('out.png', dpi=100, facecolor='black')
